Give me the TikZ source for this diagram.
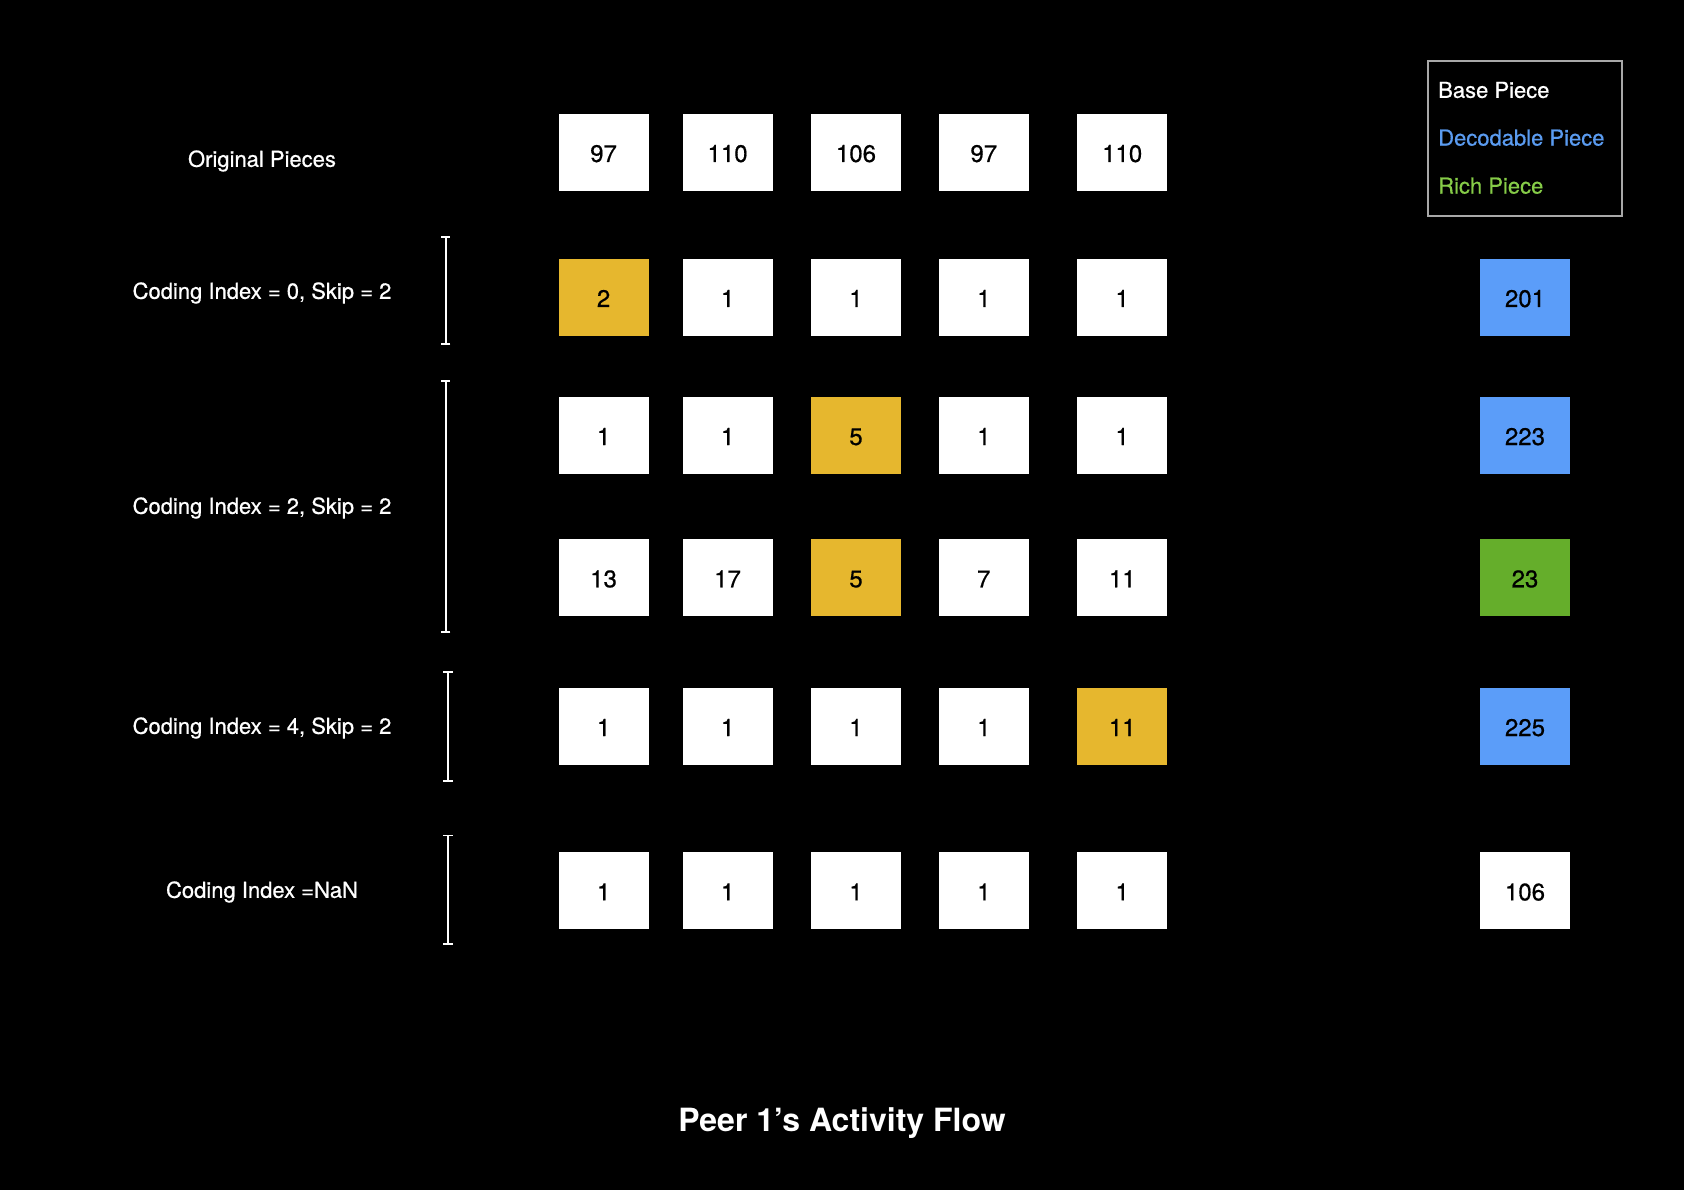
\documentclass[tikz,border=0pt]{standalone}
\usepackage{fontspec}
\setmainfont{TeX Gyre Heros}
\newfontfamily\heavyish[FakeBold=0.6]{TeX Gyre Heros}
\usetikzlibrary{arrows.meta}
\definecolor{pyellow}{HTML}{E6B72E}
\definecolor{pblue}{HTML}{5B9DF9}
\definecolor{pgreen}{HTML}{65AE2B}
\definecolor{tblue}{HTML}{5A9BF0}
\definecolor{tgreen}{HTML}{86CC48}
\definecolor{lgray}{HTML}{A8A8A8}
\tikzset{
  piece/.style={minimum width=90pt, minimum height=77pt, inner sep=0pt, fill=white, text=black, font=\heavyish\fontsize{24}{26}\selectfont, text depth=0pt, text height=19pt},
  ybox/.style={piece, fill=pyellow},
  bbox/.style={piece, fill=pblue},
  gbox/.style={piece, fill=pgreen},
  rowlabel/.style={text=white, font=\heavyish\fontsize{22}{26}\selectfont, inner sep=0pt},
  legtext/.style={font=\heavyish\fontsize{22}{24}\selectfont, inner sep=0pt, anchor=west},
  brk/.style={draw=white, line width=1.6pt, |-|, >={Bar[width=12pt]}},
}
\begin{document}
\begin{tikzpicture}[x=1pt, y=-1pt]
\fill[black] (0,0) rectangle (1684,1190);
\useasboundingbox (0,0) rectangle (1684,1190);
% column x positions
\def\ca{603.6}\def\cb{727.6}\def\cc{856}\def\cd{983.8}\def\ce{1122.2}\def\cf{1525}
% row 0: original
\node[piece] (o1) at (\ca,152.5) {97};
\node[piece] (o2) at (\cb,152.5) {110};
\node[piece] (o3) at (\cc,152.5) {106};
\node[piece] (o4) at (\cd,152.5) {97};
\node[piece] (o5) at (\ce,152.5) {110};
% row 1
\node[ybox] (a1) at (\ca,297.5) {2};
\node[piece] (a2) at (\cb,297.5) {1};
\node[piece] (a3) at (\cc,297.5) {1};
\node[piece] (a4) at (\cd,297.5) {1};
\node[piece] (a5) at (\ce,297.5) {1};
\node[bbox] (a6) at (\cf,297.5) {201};
% row 2
\node[piece] (b1) at (\ca,435.5) {1};
\node[piece] (b2) at (\cb,435.5) {1};
\node[ybox] (b3) at (\cc,435.5) {5};
\node[piece] (b4) at (\cd,435.5) {1};
\node[piece] (b5) at (\ce,435.5) {1};
\node[bbox] (b6) at (\cf,435.5) {223};
% row 3
\node[piece] (c1) at (\ca,577.8) {13};
\node[piece] (c2) at (\cb,577.8) {17};
\node[ybox] (c3) at (\cc,577.8) {5};
\node[piece] (c4) at (\cd,577.8) {7};
\node[piece] (c5) at (\ce,577.8) {11};
\node[gbox] (c6) at (\cf,577.8) {23};
% row 4
\node[piece] (d1) at (\ca,726.5) {1};
\node[piece] (d2) at (\cb,726.5) {1};
\node[piece] (d3) at (\cc,726.5) {1};
\node[piece] (d4) at (\cd,726.5) {1};
\node[ybox] (d5) at (\ce,726.5) {11};
\node[bbox] (d6) at (\cf,726.5) {225};
% row 5
\node[piece] (e1) at (\ca,890.9) {1};
\node[piece] (e2) at (\cb,890.9) {1};
\node[piece] (e3) at (\cc,890.9) {1};
\node[piece] (e4) at (\cd,890.9) {1};
\node[piece] (e5) at (\ce,890.9) {1};
\node[piece] (e6) at (\cf,890.9) {106};
% labels
\node[rowlabel] (l0) at (262,161) {Original Pieces};
\node[rowlabel] (l1) at (262,293) {Coding Index = 0, Skip = 2};
\node[rowlabel] (l2) at (262,508) {Coding Index = 2, Skip = 2};
\node[rowlabel] (l3) at (262,728) {Coding Index = 4, Skip = 2};
\node[rowlabel] (l4) at (262,892) {Coding Index =NaN};
% brackets
\coordinate (k1a) at (445.7,236.5); \coordinate (k1b) at (445.7,345);
\coordinate (k2a) at (445.7,380);   \coordinate (k2b) at (445.7,632.5);
\coordinate (k3a) at (448,671);     \coordinate (k3b) at (448,782);
\coordinate (k4a) at (448,834.5);   \coordinate (k4b) at (448,945);
\draw[brk] (k1a) -- (k1b);
\draw[brk] (k2a) -- (k2b);
\draw[brk] (k3a) -- (k3b);
\draw[brk] (k4a) -- (k4b);
% legend
\node[draw=lgray, line width=1.6pt, minimum width=194pt, minimum height=155pt, inner sep=0pt] (leg) at (1524.7,138.5) {};
\node[legtext, text=white] (lg1) at (1438,90) {Base Piece};
\node[legtext, text=tblue] (lg2) at (1438,137.7) {Decodable Piece};
\node[legtext, text=tgreen] (lg3) at (1438,185.7) {Rich Piece};
% title
\node[text=white, font=\bfseries\fontsize{32}{36}\selectfont, inner sep=0pt] (title) at (842,1123) {Peer 1’s Activity Flow};
\end{tikzpicture}
\end{document}
